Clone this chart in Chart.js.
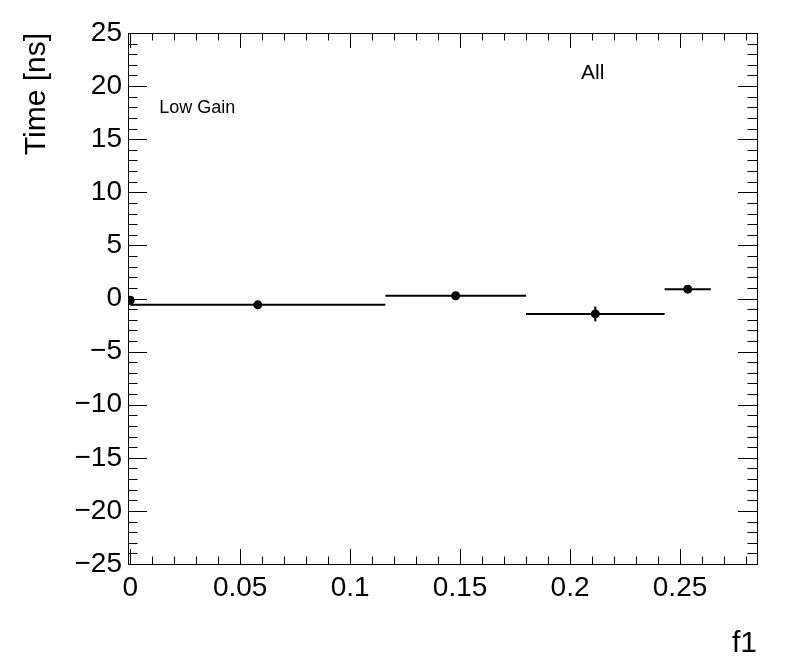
<!DOCTYPE html>
<html>
<head>
<meta charset="utf-8">
<script src="https://cdn.jsdelivr.net/npm/chart.js@4/dist/chart.umd.min.js"></script>
<style>
  html, body { margin: 0; padding: 0; background: #fff; }
  #wrap { width: 796px; height: 672px; }
</style>
</head>
<body>
<div id="wrap"><canvas id="timeChart" width="796" height="672"></canvas></div>
<script>
// values (f1 bins and mean time)
const binLow  = [0, 0, 0.116, 0.180, 0.243];
const binHigh = [0, 0.116, 0.180, 0.243, 0.264];
const f1Center = [0, 0.058, 0.148, 0.2115, 0.2535];
const timeNs  = [-0.16, -0.60, 0.26, -1.45, 0.88];
const timeErr = [0.2, 0.25, 0.2, 0.7, 0.25];

const xTickValues = [0, 0.05, 0.1, 0.15, 0.2, 0.25];
const xTickLabels = ['0', '0.05', '0.1', '0.15', '0.2', '0.25'];
const yTickValues = [25, 20, 15, 10, 5, 0, -5, -10, -15, -20, -25];
const yTickLabels = ['25', '20', '15', '10', '5', '0', '\u22125', '\u221210', '\u221215', '\u221220', '\u221225'];

const FONT = '"Liberation Sans", Arial, Helvetica, sans-serif';

const datasets = [];
for (let i = 0; i < timeNs.length; i++) {
    // horizontal bar = bin width
    datasets.push({
        data: [{ x: binLow[i], y: timeNs[i] }, { x: binHigh[i], y: timeNs[i] }],
        showLine: true, borderColor: '#000', borderWidth: 2, pointRadius: 0
    });
    // vertical error bar
    datasets.push({
        data: [{ x: f1Center[i], y: timeNs[i] - timeErr[i] }, { x: f1Center[i], y: timeNs[i] + timeErr[i] }],
        showLine: true, borderColor: '#000', borderWidth: 2, pointRadius: 0
    });
}
datasets.push({
    data: f1Center.map((x, i) => ({ x: x, y: timeNs[i] })),
    showLine: false, pointRadius: 4.5, pointBackgroundColor: '#000', pointBorderColor: '#000', pointBorderWidth: 0
});

// frame, inward ticks on all four sides, text labels
const rootFrame = {
    id: 'rootFrame',
    afterDraw(chart) {
        const ctx = chart.ctx;
        const a = chart.chartArea;
        const xs = chart.scales.x, ys = chart.scales.y;
        ctx.save();
        ctx.strokeStyle = '#000';
        ctx.lineWidth = 1;
        ctx.strokeRect(Math.round(a.left) + 0.5, Math.round(a.top) + 0.5,
            Math.round(a.right - a.left), Math.round(a.bottom - a.top));
        ctx.beginPath();
        for (let k = 0; k <= 28; k++) {
            const v = k / 100;
            const px = Math.round(xs.getPixelForValue(v)) + 0.5;
            const len = k % 5 === 0 ? 15 : 7.5;
            ctx.moveTo(px, a.bottom); ctx.lineTo(px, a.bottom - len);
            ctx.moveTo(px, a.top); ctx.lineTo(px, a.top + len);
        }
        for (let k = -25; k <= 25; k++) {
            const py = Math.round(ys.getPixelForValue(k)) + 0.5;
            const len = k % 5 === 0 ? 19 : 9.5;
            ctx.moveTo(a.left, py); ctx.lineTo(a.left + len, py);
            ctx.moveTo(a.right, py); ctx.lineTo(a.right - len, py);
        }
        ctx.stroke();

        ctx.fillStyle = '#000';
        ctx.textBaseline = 'alphabetic';
        ctx.textAlign = 'left';
        ctx.font = '18px ' + FONT;
        ctx.fillText('Low Gain', xs.getPixelForValue(0.0132), ys.getPixelForValue(17.5));
        ctx.font = '21px ' + FONT;
        ctx.fillText('All', xs.getPixelForValue(0.205), ys.getPixelForValue(20.7));
        ctx.restore();
    }
};

new Chart(document.getElementById('timeChart'), {
    type: 'scatter',
    data: { datasets: datasets },
    options: {
        responsive: false,
        animation: false,
        devicePixelRatio: 1,
        layout: { padding: { left: 0, right: 39, top: 33, bottom: 0 } },
        plugins: { legend: { display: false }, tooltip: { enabled: false } },
        scales: {
            x: {
                type: 'linear',
                min: -0.001,
                max: 0.285,
                grid: { display: false, drawTicks: false },
                border: { display: false },
                afterBuildTicks: (s) => { s.ticks = xTickValues.map(v => ({ value: v })); },
                afterFit: (s) => { s.height = 108; },
                ticks: {
                    autoSkip: false, maxRotation: 0, padding: 7, color: '#000',
                    font: { family: FONT, size: 28 },
                    callback: (v) => xTickLabels[xTickValues.indexOf(v)]
                },
                title: {
                    display: true, text: 'f1', align: 'end', color: '#000',
                    font: { family: FONT, size: 30 }, padding: { top: 0, bottom: 10 }
                }
            },
            y: {
                type: 'linear',
                min: -25,
                max: 25,
                grid: { display: false, drawTicks: false },
                border: { display: false },
                afterBuildTicks: (s) => { s.ticks = yTickValues.map(v => ({ value: v })); },
                afterFit: (s) => { s.width = 128; },
                ticks: {
                    autoSkip: false, padding: 6, color: '#000',
                    font: { family: FONT, size: 28 },
                    callback: (v) => yTickLabels[yTickValues.indexOf(v)]
                },
                title: {
                    display: true, text: 'Time [ns]', align: 'end', color: '#000',
                    font: { family: FONT, size: 30 }, padding: { top: 19, bottom: 0 }
                }
            }
        }
    },
    plugins: [rootFrame]
});
</script>
</body>
</html>
